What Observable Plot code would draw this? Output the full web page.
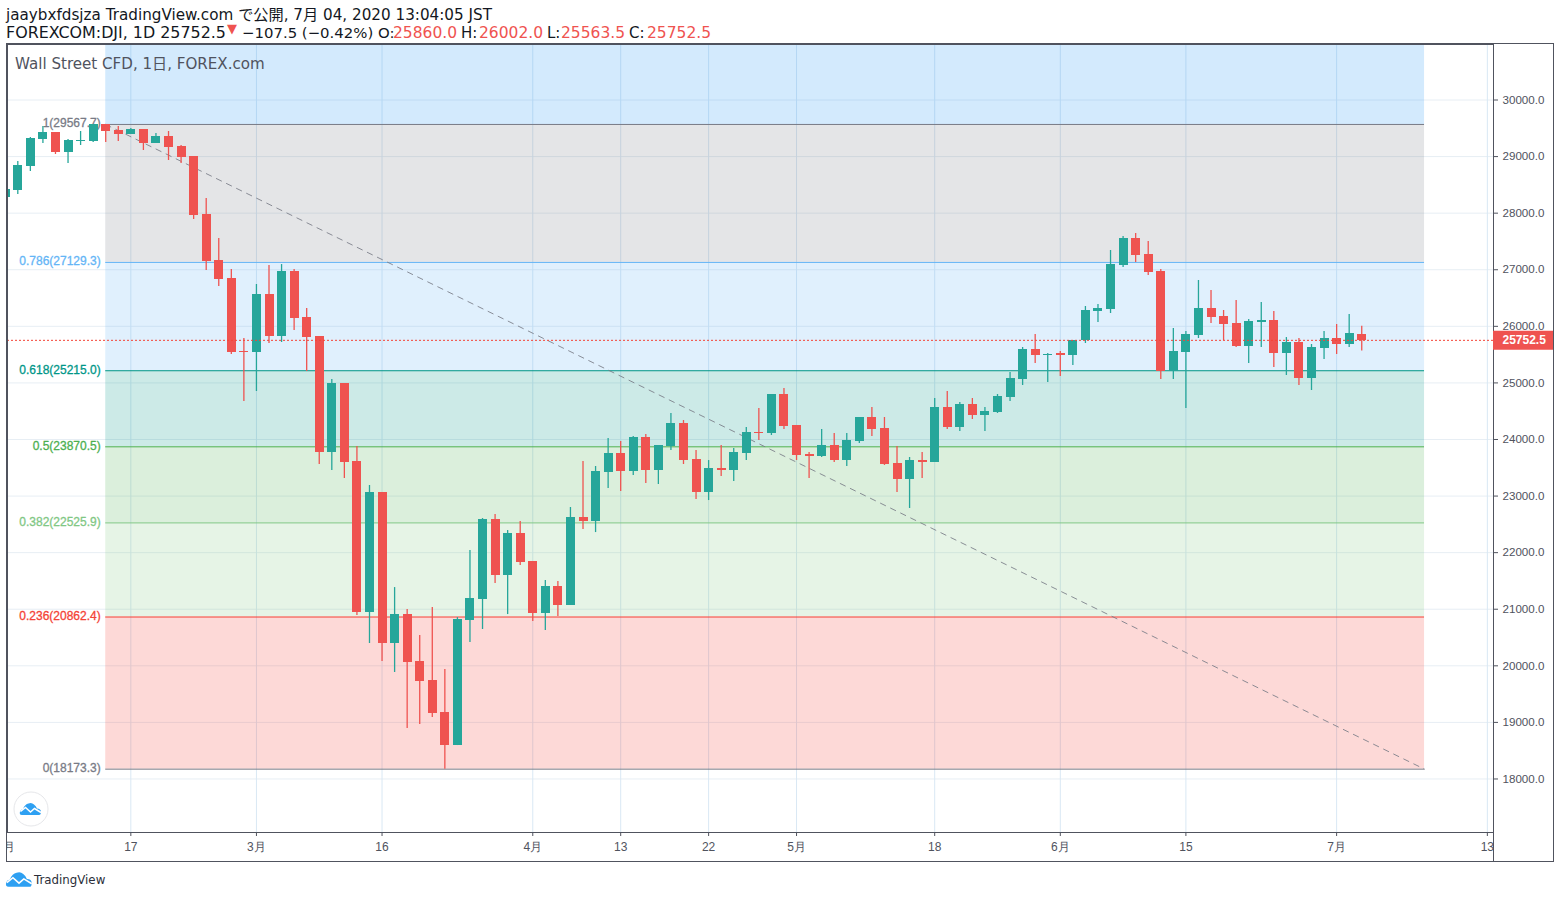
<!DOCTYPE html>
<html><head><meta charset="utf-8">
<script src="https://cdn.jsdelivr.net/npm/d3@7"></script>
<script src="https://cdn.jsdelivr.net/npm/@observablehq/plot@0.6"></script>
<style>
html,body{margin:0;padding:0;background:#fff;width:1560px;height:898px;overflow:hidden;font-family:"DejaVu Sans","Noto Sans CJK JP",sans-serif}
.t{position:absolute;white-space:nowrap;line-height:18px;font-size:15px;color:#131722}
.r{color:#ef5350;font-size:15.5px}
#frame{position:absolute;left:6px;top:43px;width:1546px;height:817px;border:1px solid #50535e;box-sizing:content-box;overflow:hidden}
#frame svg{display:block;position:absolute;left:0;top:0}
</style></head><body>
<div class="t" style="left:6px;top:6px;font-size:15.2px">jaaybxfdsjza TradingView.com で公開, 7月 04, 2020 13:04:05 JST</div>
<div class="t" style="left:6px;top:24px;font-size:15.9px">FOREXCOM:DJI, 1D 25752.5</div>
<div class="t r" style="left:227px;top:20px;font-size:13px">▼</div>
<div class="t" style="left:242px;top:24px;font-size:14.9px">−107.5 (−0.42%) O:</div>
<div class="t r" style="left:393px;top:24px">25860.0</div>
<div class="t" style="left:461px;top:24px">H:</div>
<div class="t r" style="left:479px;top:24px">26002.0</div>
<div class="t" style="left:547px;top:24px">L:</div>
<div class="t r" style="left:561px;top:24px">25563.5</div>
<div class="t" style="left:629px;top:24px">C:</div>
<div class="t r" style="left:647px;top:24px">25752.5</div>
<div id="frame"></div>
<div class="t" style="left:15px;top:55px;color:#50535e;font-size:15.1px">Wall Street CFD, 1日, FOREX.com</div>
<svg style="position:absolute;left:13px;top:791px" width="36" height="36" viewBox="0 0 36 36">
<circle cx="18" cy="18" r="17" fill="#fff" stroke="#e6e7ea" stroke-width="1"/>
<path d="M9 24 Q6 24 7 20.5 Q7.5 18.5 10 18 Q12 13 15.5 12.5 Q18.5 11 21 13.5 Q23 15 24 17.5 Q28 17.5 28 21 Q28 24 26 24 Z" fill="#2ea0f2"/>
<path d="M7.5 20.5 L12.5 16.5 L17.5 21 L21.5 17.5 L28 21.5" fill="none" stroke="#fff" stroke-width="1.5"/>
</svg>
<svg style="position:absolute;left:5px;top:871px" width="28" height="17" viewBox="6 11 23 14">
<path d="M9 24 Q6 24 7 20.5 Q7.5 18.5 10 18 Q12 13 15.5 12.5 Q18.5 11 21 13.5 Q23 15 24 17.5 Q28 17.5 28 21 Q28 24 26 24 Z" fill="#2ea0f2"/>
<path d="M7.5 20.5 L12.5 16.5 L17.5 21 L21.5 17.5 L28 21.5" fill="none" stroke="#fff" stroke-width="1.3"/>
</svg>
<div class="t" style="left:34px;top:871px;font-size:11.8px;color:#2a2e39">TradingView</div>
<script>
// Daily candles, FOREXCOM:DJI (index 0 = start of visible range)
const open_ = [28277,28401,28825,29302,29426,29073,29266,29266,29567,29461,29390,29479,29231,29355,29178,29002,27976,27163,26845,25555,25538,26562,25820,26969,26156,25820,23770,24989,23611,20942,23063,20394,20906,20075,19740,19175,18591,20800,21172,22586,21596,22338,21843,20924,21401,21066,22621,22550,23416,23752,23434,24035,23452,23876,24282,23646,23063,23487,23452,23752,24124,24106,24795,24247,23735,23699,23894,23628,23964,24389,24194,23576,23293,23628,23593,24565,24212,24618,24424,24477,24742,25060,25590,25485,25520,25485,25749,26262,26297,27075,27552,27269,26969,25201,25538,25838,26315,26174,26050,25644,26068,26103,25520,25714,25078,25608,25785,25679,25860];
const high_ = [28419,28913,29337,29532,29426,29302,29443,29567,29567,29532,29497,29479,29408,29443,29196,29002,28259,27552,27005,25785,26739,27075,27092,27005,26315,25820,25060,24989,23876,23187,23063,21383,20995,20536,21030,19935,20853,22038,22603,22674,22391,22550,21843,21507,21489,22798,23611,23523,24017,23964,24053,24088,23894,24459,24335,23805,23628,23894,23841,24212,24548,24795,24901,24247,23770,24176,24106,24106,24389,24565,24389,23876,23682,23770,24724,24848,24654,24724,24565,24795,25184,25626,25856,25520,25555,25749,26351,26386,27340,27587,27641,27499,27005,25961,25908,26810,26633,26280,26456,26121,26421,26262,25802,25785,25679,25908,26032,26209,26002];
const low_ = [28277,28330,28736,29231,29037,28878,29196,29249,29249,29266,29390,29108,29231,28931,28878,27888,26987,26704,25502,24671,24848,25696,25714,25926,25201,23558,23452,23310,20889,20394,20075,19882,18891,18962,19087,18173,18591,20412,20642,21454,20906,21773,20783,20624,20871,21066,22408,22355,23134,23081,23364,23222,23204,23805,23558,22939,22921,23346,23257,23628,23982,24071,24176,23628,23310,23682,23593,23523,23929,24053,23541,23063,22780,23310,23593,24176,24141,24353,24141,24459,24671,24954,25343,25007,25113,25308,25696,26068,26227,27040,27128,26899,25060,25060,24548,25785,26050,25749,25626,25343,25626,25272,25131,24954,24866,25414,25502,25626,25563.5];
const close_ = [28419,28843,29320,29426,29073,29284,29284,29567,29443,29390,29479,29231,29355,29161,28984,27959,27145,26828,25538,25538,26562,25820,26969,26139,25802,23770,24989,23593,20942,23063,20394,20906,20058,19722,19157,18591,20818,21189,22586,21596,22338,21826,20924,21401,21066,22621,22550,23434,23752,23434,24035,23452,23894,24282,23628,23063,23487,23452,23770,24124,24106,24795,24229,23717,23699,23894,23628,23982,24389,24176,23558,23293,23628,23593,24565,24212,24618,24424,24494,24760,25078,25590,25485,25502,25485,25749,26280,26315,27092,27552,27252,26952,25201,25555,25856,26315,26156,26032,25644,26085,26103,25520,25714,25078,25626,25785,25679,25873,25752.5];

const tickIndex = [0,10,20,30,42,49,56,63,74,84,94,106,118];
const tickLabel = ["2月","17","3月","16","4月","13","22","5月","18","6月","15","7月","13"];
const priceTicks = [18000,19000,20000,21000,22000,23000,24000,25000,26000,27000,28000,29000,30000];

const fibRatio = ["1","0.786","0.618","0.5","0.382","0.236","0"];
const fibPrice = [29567.7,27129.3,25215.0,23870.5,22525.9,20862.4,18173.3];
const fibColor = ["#787b86","#64b5f6","#009688","#4caf50","#81c784","#f44336","#787b86"];
const bandTop = [30981,29567.7,27129.3,25215.0,23870.5,22525.9,20862.4];
const bandBottom = [29567.7,27129.3,25215.0,23870.5,22525.9,20862.4,18173.3];
const bandColor = ["#2196f3","#787b86","#64b5f6","#009688","#4caf50","#81c784","#f44336"];
const fibStart = 8, fibEnd = 113;
const lastClose = 25752.5;
const xMax = 118.49, tagEnd = 123.27, yBottomStrip = 16541;

const up = "#26a69a", down = "#ef5350";
const candles = open_.map((o,i)=>({i,o,h:high_[i],l:low_[i],c:close_[i],col:close_[i]>=o?up:down}));
const bands = bandTop.map((t,k)=>({t,b:bandBottom[k],col:bandColor[k]}));
const fibs = fibPrice.map((p,k)=>({p,col:fibColor[k],label:`${fibRatio[k]}(${p.toFixed(1)})`}));
const fontFam = '"Liberation Sans",Arial,sans-serif';

const chart = Plot.plot({
  width:1546, height:817, marginLeft:0, marginRight:60, marginTop:0, marginBottom:29,
  style:{background:"transparent",fontFamily:fontFam,fontSize:"12px",overflow:"hidden"},
  x:{type:"linear",domain:[0.18,xMax],range:[0,1486],axis:null},
  y:{type:"linear",domain:[17054,30981],range:[788,0],axis:null},
  marks:[
    Plot.ruleY(priceTicks,{stroke:"#e7eef4",strokeWidth:1}),
    Plot.ruleX(tickIndex,{stroke:"#d9e8f4",strokeWidth:1}),
    Plot.rect(bands,{x1:()=>fibStart,x2:()=>fibEnd,y1:"t",y2:"b",fill:"col",fillOpacity:0.2}),
    Plot.ruleY(fibs,{y:"p",x1:()=>fibStart,x2:()=>fibEnd,stroke:"col",strokeWidth:1}),
    Plot.text(fibs,{y:"p",x:()=>fibStart,dx:-5,dy:-1,text:"label",fill:"col",stroke:"col",strokeWidth:0.3,textAnchor:"end",fontSize:12,fontWeight:400}),
    Plot.line([{x:fibStart,y:fibPrice[0]},{x:fibEnd,y:fibPrice[6]}],{x:"x",y:"y",stroke:"#787b86",strokeWidth:1,strokeOpacity:0.85,strokeDasharray:"5.6,5.6"}),
    Plot.ruleX(candles,{x:"i",y1:"l",y2:"h",stroke:"col",strokeWidth:1.3}),
    Plot.ruleX(candles,{x:"i",y1:"o",y2:"c",stroke:"col",strokeWidth:9,shapeRendering:"crispEdges"}),
    Plot.ruleY([lastClose],{stroke:"#f44336",strokeWidth:1,strokeDasharray:"2,2"}),
    Plot.frame({stroke:"#50535e",strokeWidth:1}),
    Plot.ruleX([xMax],{y1:()=>17054,y2:()=>yBottomStrip,stroke:"#50535e",strokeWidth:1}),
    Plot.axisX(tickIndex,{anchor:"bottom",tickSize:4,tickPadding:6,fontSize:12,fill:"#50535e",stroke:"#50535e",
      tickFormat:(d)=>tickLabel[tickIndex.indexOf(d)],label:null}),
    Plot.axisY(priceTicks,{anchor:"right",tickSize:4,tickPadding:5,fontSize:11.6,fill:"#50535e",stroke:"#50535e",
      tickFormat:(d)=>d.toFixed(1),label:null}),
    Plot.ruleY([lastClose],{x1:()=>xMax,x2:()=>tagEnd,stroke:"#ef5350",strokeWidth:19}),
    Plot.text([lastClose],{y:d=>d,x:()=>xMax,dx:9,text:d=>d.toFixed(1),fill:"#fff",textAnchor:"start",fontWeight:700,fontSize:12})
  ]
});
document.getElementById("frame").appendChild(chart);
</script>
</body></html>
